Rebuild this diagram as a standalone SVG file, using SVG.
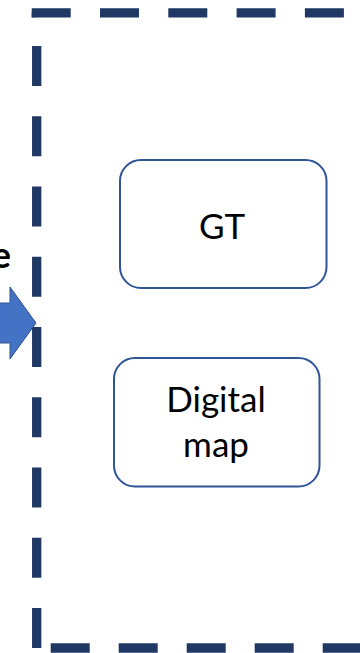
<svg xmlns="http://www.w3.org/2000/svg" width="360" height="653" viewBox="0 0 360 653">
<style>
.frame{stroke:#203864;stroke-width:9.3;fill:none}
.box{fill:#ffffff;stroke:#2F5597;stroke-width:2}
.lbl{font-family:Lato,"Open Sans",sans-serif;font-size:35px;fill:#000;text-anchor:middle}
</style>
<rect width="360" height="653" fill="#ffffff"/>
<g id="frame">
<line class="frame" x1="31.7" y1="12.8" x2="360" y2="12.8" stroke-dasharray="39 29.3"/>
<line class="frame" x1="36.7" y1="46" x2="36.7" y2="648" stroke-dasharray="40 30.25"/>
<line class="frame" x1="50.7" y1="648" x2="360" y2="648" stroke-dasharray="39 29"/>
<rect x="31.7" y="12.8" width="5" height="4.5" fill="#203864"/>
</g>
<g id="input">
<text x="11" y="268" font-family="Lato,'Open Sans',sans-serif" font-size="36" font-weight="bold" text-anchor="end" fill="#000">e</text>
<polygon points="-10,303 10,303 10,287 36,323 10,359 10,343 -10,343" fill="#4472C4" stroke="#2F528F" stroke-width="1"/>
</g>
<g id="gt">
<rect class="box" x="120" y="160" width="206.5" height="128" rx="21"/>
<text class="lbl" x="222" y="239">GT</text>
</g>
<g id="digital-map">
<rect class="box" x="114" y="358" width="205.5" height="128.5" rx="21"/>
<text class="lbl" x="216" y="412">Digital</text>
<text class="lbl" x="216" y="457">map</text>
</g>
</svg>
